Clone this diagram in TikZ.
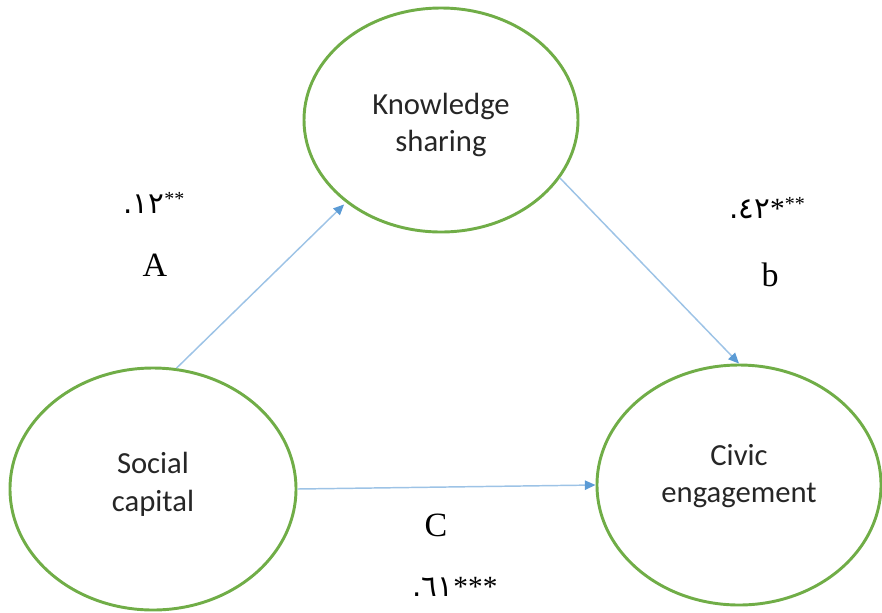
\documentclass[tikz,border=0pt]{standalone}
\usepackage{fontspec}
\setmainfont{Liberation Serif}
\newfontfamily\calib{Carlito}
\newfontfamily\arabdig{DejaVu Sans}
\usetikzlibrary{shapes.geometric,arrows.meta}
\definecolor{ringgreen}{HTML}{70AD47}
\definecolor{linkblue}{HTML}{9DC3E6}
\definecolor{tipblue}{HTML}{5B9BD5}
\definecolor{inkgray}{HTML}{262626}
\tikzset{
  concept/.style={ellipse, draw=ringgreen, line width=2.2pt, inner sep=0pt},
  ctext/.style={align=center, text=inkgray, font=\calib\fontsize{23}{28}\selectfont},
  link/.style={draw=linkblue, line width=1.1pt,
    -{Triangle[length=8pt,width=7pt,color=tipblue]}},
  letter/.style={font=\fontsize{25.5}{28}\selectfont},
  coef/.style={font=\fontsize{22}{24}\selectfont}
}
\begin{document}
\begin{tikzpicture}[x=0.75pt,y=-0.75pt]
\useasboundingbox (0,0) rectangle (882,612);
\node[concept, minimum width=205.5pt, minimum height=168pt] (ks) at (441,120) {};
\node[concept, minimum width=214.5pt, minimum height=181.5pt] (sc) at (153,489) {};
\node[concept, minimum width=213pt, minimum height=180pt] (ce) at (739,485) {};
\node[ctext] (kst) at ([yshift=-3.5pt]ks.center) {Knowledge\\sharing};
\node[ctext] (sct) at ([yshift=3.5pt]sc.center) {Social\\capital};
\node[ctext] (cet) at ([yshift=6.5pt]ce.center) {Civic\\engagement};
\draw[link, shorten >=2pt] (sc.79) -- (ks.221);
\draw[link] (ks.-26) -- (ce.90);
\draw[link] (sc.0) -- (ce.180);
\node[coef] (l1) at (154,203) {{\arabdig .١٢}\raisebox{0.3em}{\fontsize{15}{16}\selectfont**}};
\node[letter] (la) at (155,265) {A};
\node[coef] (l2) at (767,208) {{\arabdig .٤٢}*\raisebox{0.3em}{\fontsize{15}{16}\selectfont**}};
\node[letter] (lb) at (770,275) {b};
\node[letter] (lc) at (436,525) {C};
\node[coef] (l3) at (455,587) {{\arabdig .٦١}***};
\end{tikzpicture}
\end{document}
